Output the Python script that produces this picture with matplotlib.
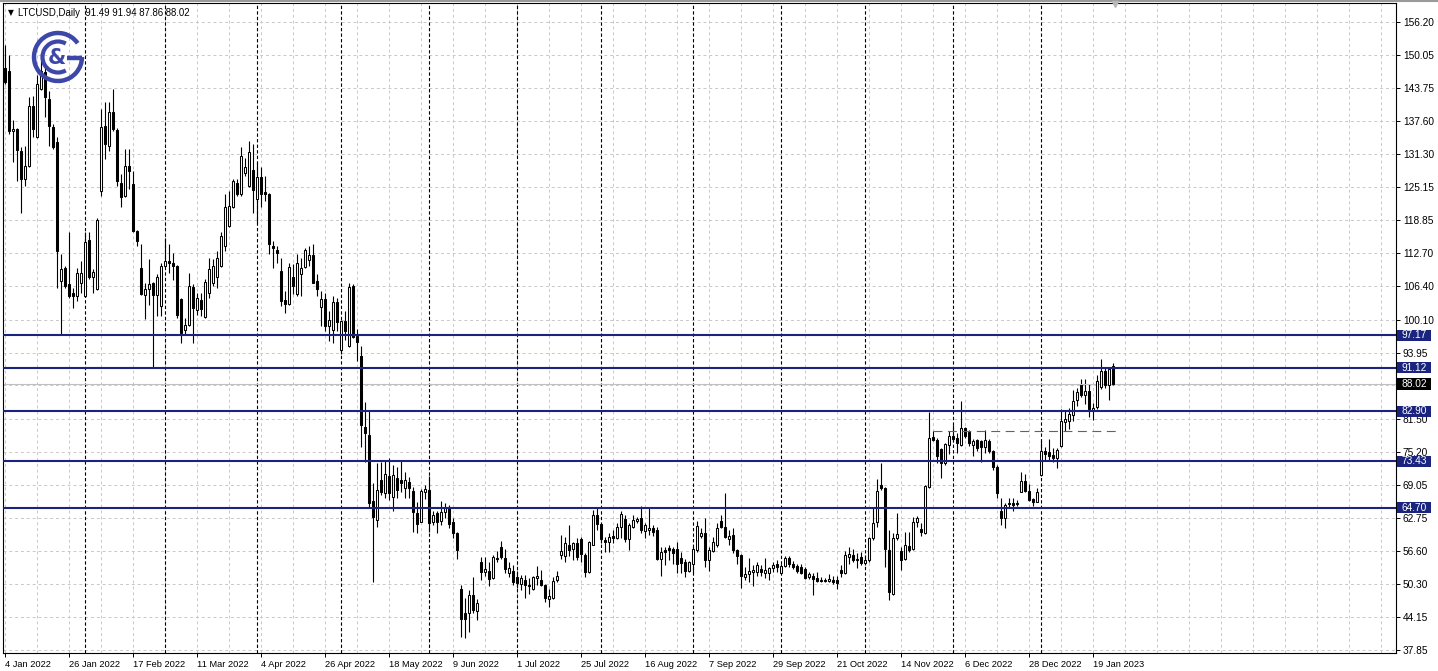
import numpy as np
import matplotlib.pyplot as plt
from matplotlib.patches import Arc, Rectangle

plt.rcParams['font.family'] = ['Liberation Sans', 'DejaVu Sans']

# LTCUSD daily bars (weekdays only), 4 Jan 2022 .. 26 Jan 2023
opens = [147.5, 147.1, 135.7, 136.1, 132.0, 126.65, 129.2, 140.5, 134.5, 143.7,
         146.8, 141.8, 136.5, 133.6, 107.4, 109.9, 106.9, 105.2, 104.6, 107.1,
         104.6, 115.2, 108.2, 105.85, 124.4, 136.7, 132.95, 139.2, 135.9, 126.0,
         123.5, 129.2, 125.7, 116.9, 109.9, 104.8, 105.85, 107.1, 104.8, 102.7,
         110.3, 111.2, 110.9, 110.3, 104.0, 98.1, 99.2, 106.3, 101.9, 103.9,
         100.6, 105.2, 107.1, 108.1, 110.3, 114.05, 117.8, 121.4, 126.0, 123.8,
         127.7, 125.4, 128.4, 122.9, 127.1, 124.25, 123.8, 114.05, 113.2, 109.3,
         103.8, 103.1, 108.2, 104.9, 108.8, 110.1, 111.3, 112.3, 107.4, 102.5,
         104.0, 98.9, 98.1, 103.5, 94.5, 99.85, 95.1, 106.5, 97.0, 93.25,
         80.0, 78.45, 65.96, 62.4, 69.95, 67.4, 70.6, 66.8, 70.25, 69.95,
         68.35, 69.5, 67.85, 63.6, 62.05, 67.6, 68.05, 62.05, 63.6, 62.2,
         63.95, 64.6, 62.05, 60.0, 49.45, 44.75, 44.75, 48.3, 45.2, 54.5,
         52.6, 52.75, 51.35, 55.3, 57.35, 55.25, 52.45, 52.75, 51.6, 50.4,
         51.0, 50.1, 49.3, 51.35, 51.0, 50.1, 47.45, 47.6, 51.0, 55.8,
         55.63, 57.65, 57.0, 57.95, 58.8, 55.8, 52.5, 57.75, 63.3, 61.55,
         58.6, 58.3, 59.4, 59.05, 61.1, 62.6, 58.8, 61.1, 62.2, 62.8,
         60.3, 60.5, 60.9, 60.5, 54.95, 56.7, 57.15, 56.9, 57.0, 55.25,
         54.5, 52.75, 54.0, 56.7, 59.4, 59.85, 54.8, 56.5, 57.65, 62.2,
         61.1, 58.8, 59.55, 56.7, 55.8, 51.65, 52.1, 52.6, 52.6, 53.1,
         52.45, 52.3, 53.4, 54.0, 52.3, 53.75, 55.25, 54.15, 53.75, 53.55,
         53.1, 51.65, 51.9, 51.35, 51.1, 51.0, 50.95, 51.15, 51.0, 52.9,
         52.3, 55.45, 55.75, 55.0, 55.45, 54.35, 54.8, 58.9, 62.05, 69.0,
         68.5, 56.7, 48.5, 58.9, 56.5, 54.95, 57.5, 56.9, 61.95, 60.65,
         59.85, 68.65, 78.1, 77.5, 75.8, 73.1, 76.45, 78.3, 77.8, 76.45,
         79.7, 79.05, 76.55, 77.5, 77.2, 76.05, 77.3, 75.4, 72.45, 64.1,
         62.7, 65.3, 65.5, 65.6, 67.7, 69.75, 67.85, 66.35, 65.85, 70.9,
         75.4, 75.2, 74.65, 74.15, 76.25, 80.8, 81.1, 82.2, 85.05, 87.75,
         85.95, 86.75, 82.95, 83.6, 87.4, 90.4, 87.75, 91.49]

highs = [151.9, 150.0, 137.8, 136.3, 132.6, 132.95, 142.1, 142.4, 146.2, 150.5,
         147.8, 143.3, 137.0, 134.5, 112.5, 110.2, 116.6, 106.2, 109.9, 111.2,
         116.6, 116.6, 109.6, 119.4, 139.9, 141.1, 141.1, 143.7, 136.2, 127.6,
         132.3, 132.3, 128.2, 117.1, 114.4, 107.1, 111.5, 107.3, 108.7, 110.9,
         115.6, 114.4, 112.8, 110.5, 104.3, 100.5, 109.0, 106.8, 105.2, 105.2,
         107.75, 111.8, 111.5, 113.1, 116.6, 123.8, 124.4, 126.65, 126.65, 132.6,
         130.7, 133.9, 133.3, 129.8, 128.85, 127.3, 124.1, 115.0, 114.05, 111.8,
         105.5, 110.9, 110.6, 112.5, 111.8, 113.7, 114.05, 114.4, 108.7, 105.5,
         105.2, 101.75, 104.6, 104.3, 100.0, 101.75, 107.1, 106.8, 98.3, 95.1,
         84.7, 82.85, 69.3, 73.1, 73.4, 73.7, 74.05, 72.8, 72.45, 73.7,
         71.5, 70.4, 68.65, 65.85, 68.25, 69.0, 70.6, 64.1, 64.1, 66.0,
         65.5, 65.2, 62.7, 60.2, 50.2, 47.6, 49.15, 51.6, 47.45, 55.45,
         55.45, 54.5, 55.8, 56.55, 58.45, 56.9, 54.5, 53.9, 52.8, 52.0,
         52.0, 51.35, 51.8, 53.74, 52.9, 50.4, 49.45, 51.65, 52.75, 59.5,
         59.2, 61.4, 58.3, 58.9, 59.2, 56.1, 58.4, 64.3, 64.6, 61.75,
         59.2, 59.85, 60.5, 61.75, 64.1, 63.3, 61.75, 63.3, 62.9, 65.1,
         61.75, 64.7, 61.4, 61.1, 57.3, 57.3, 57.65, 57.3, 58.15, 56.4,
         55.1, 54.6, 57.35, 62.2, 60.8, 62.7, 57.35, 59.2, 61.75, 63.3,
         67.4, 60.5, 60.8, 57.0, 56.0, 53.55, 55.25, 53.9, 54.5, 53.9,
         55.25, 53.55, 54.5, 54.8, 54.0, 55.6, 55.6, 54.6, 54.0, 54.0,
         53.55, 52.6, 52.3, 52.6, 51.65, 51.5, 52.1, 51.85, 51.9, 53.9,
         56.5, 57.35, 56.9, 56.1, 56.4, 55.7, 59.2, 64.6, 70.1, 73.1,
         68.65, 60.5, 59.85, 63.6, 57.35, 60.15, 60.15, 63.0, 63.2, 61.75,
         69.0, 82.7, 79.2, 77.9, 75.9, 76.85, 79.2, 80.35, 78.75, 84.75,
         80.0, 79.4, 77.7, 77.7, 77.5, 79.4, 77.7, 75.6, 72.8, 66.45,
         65.5, 66.45, 66.45, 66.2, 71.4, 71.0, 69.1, 66.6, 68.5, 77.5,
         76.05, 77.7, 75.9, 75.9, 83.35, 83.2, 83.5, 86.95, 87.25, 89.0,
         89.0, 88.0, 84.45, 89.8, 92.8, 91.05, 91.15, 91.94]

lows = [144.6, 135.2, 129.8, 126.3, 120.3, 125.4, 129.0, 134.5, 134.3, 143.5,
        138.3, 132.9, 132.4, 106.2, 97.35, 106.2, 104.3, 102.4, 103.6, 105.2,
        104.4, 107.8, 105.2, 105.7, 123.5, 130.4, 132.0, 135.8, 125.4, 121.3,
        123.3, 124.8, 116.7, 114.05, 104.7, 100.2, 103.0, 91.1, 100.8, 100.8,
        110.1, 109.0, 107.7, 100.5, 95.8, 97.35, 98.9, 95.8, 101.1, 100.8,
        100.4, 104.3, 106.5, 106.2, 110.1, 113.1, 117.6, 121.2, 123.5, 123.5,
        127.3, 125.2, 120.3, 118.45, 121.3, 122.55, 112.5, 109.9, 110.9, 102.7,
        101.4, 102.9, 104.9, 104.6, 104.6, 109.9, 110.3, 107.0, 104.6, 98.9,
        98.0, 96.1, 95.8, 98.0, 93.6, 96.4, 95.0, 96.7, 92.3, 76.2,
        73.35, 64.9, 50.7, 61.1, 67.1, 66.45, 66.15, 64.1, 66.45, 67.7,
        66.6, 66.45, 60.1, 59.85, 61.95, 66.35, 60.1, 61.4, 59.85, 61.4,
        62.7, 60.8, 59.0, 55.1, 40.3, 40.1, 41.3, 44.75, 43.45, 51.0,
        51.9, 49.9, 51.2, 54.5, 55.1, 52.3, 51.6, 50.2, 49.5, 49.15,
        47.6, 48.5, 49.2, 50.05, 49.9, 46.9, 46.0, 47.5, 50.7, 55.1,
        54.5, 55.6, 54.8, 54.8, 54.5, 51.65, 52.3, 57.65, 60.5, 57.95,
        56.4, 56.4, 57.95, 58.8, 58.9, 58.3, 56.7, 60.8, 61.9, 59.85,
        59.05, 59.5, 59.4, 54.8, 51.9, 53.9, 54.8, 54.15, 52.3, 52.3,
        51.65, 52.6, 52.3, 56.4, 58.9, 53.55, 52.75, 56.3, 57.35, 60.8,
        58.9, 57.65, 56.1, 54.15, 49.6, 51.0, 50.7, 49.9, 51.9, 51.9,
        51.35, 51.0, 52.6, 52.6, 52.3, 53.55, 53.55, 53.1, 52.3, 52.1,
        51.2, 51.3, 48.2, 50.7, 50.7, 50.6, 50.7, 50.4, 49.3, 51.65,
        52.1, 54.15, 54.5, 53.25, 53.9, 53.9, 54.5, 58.6, 61.1, 68.05,
        53.55, 47.25, 48.2, 58.6, 52.9, 54.8, 56.4, 56.7, 61.1, 59.4,
        59.7, 68.5, 77.2, 73.1, 70.25, 72.65, 74.8, 77.05, 75.0, 76.25,
        77.8, 76.25, 74.35, 75.3, 73.4, 75.0, 75.0, 71.85, 66.45, 61.4,
        60.8, 64.6, 64.1, 65.0, 67.6, 67.6, 65.96, 65.1, 65.7, 70.75,
        73.7, 73.7, 73.4, 72.1, 76.05, 79.2, 79.6, 80.95, 83.8, 85.5,
        84.2, 81.7, 81.3, 83.35, 87.15, 87.25, 85.05, 87.86]

closes = [145.0, 135.8, 136.1, 132.1, 126.65, 129.2, 140.5, 136.1, 144.6, 147.1,
          142.1, 136.7, 132.6, 113.1, 109.6, 106.5, 104.6, 104.6, 109.0, 109.0,
          114.7, 108.1, 109.2, 118.9, 136.4, 133.3, 139.2, 136.1, 126.3, 123.2,
          129.2, 128.2, 116.9, 115.0, 104.9, 105.85, 106.9, 104.8, 108.1, 110.3,
          111.2, 110.9, 110.3, 101.1, 97.7, 99.2, 106.5, 102.4, 104.2, 102.1,
          107.3, 109.6, 110.3, 111.8, 116.0, 121.3, 121.6, 126.3, 123.8, 131.0,
          129.0, 131.7, 124.6, 127.0, 123.8, 123.8, 114.4, 113.7, 112.7, 103.6,
          103.1, 110.1, 106.5, 110.9, 109.85, 113.2, 112.3, 107.1, 105.85, 104.0,
          98.9, 100.0, 103.5, 99.7, 99.85, 98.0, 106.3, 96.85, 95.95, 80.2,
          78.75, 65.5, 63.0, 68.05, 67.7, 71.0, 67.4, 70.9, 68.05, 69.3,
          69.95, 68.5, 63.8, 61.55, 67.85, 68.25, 61.75, 63.4, 62.05, 63.8,
          64.7, 61.55, 60.0, 56.7, 43.65, 43.8, 48.3, 45.35, 46.8, 52.6,
          53.05, 51.2, 55.45, 55.05, 55.45, 53.1, 53.35, 50.7, 50.5, 51.35,
          50.2, 50.0, 51.6, 51.85, 50.2, 47.6, 48.1, 50.85, 51.85, 56.5,
          58.1, 56.7, 57.95, 55.45, 56.05, 52.5, 58.3, 63.3, 61.55, 58.8,
          58.15, 59.2, 58.9, 61.1, 63.45, 58.8, 61.4, 62.4, 62.6, 60.5,
          61.4, 60.9, 60.2, 54.95, 56.4, 56.4, 56.7, 56.2, 54.0, 54.35,
          52.75, 54.5, 57.0, 61.3, 59.85, 54.8, 56.7, 58.3, 60.8, 61.1,
          59.2, 59.4, 56.7, 55.6, 51.9, 52.1, 52.75, 52.9, 53.9, 52.6,
          52.9, 53.35, 53.9, 53.5, 53.75, 55.25, 54.15, 53.55, 52.75, 52.45,
          51.5, 52.1, 51.2, 50.85, 50.9, 50.85, 51.3, 50.65, 50.5, 52.3,
          55.75, 55.9, 54.8, 54.8, 54.35, 54.8, 58.9, 61.9, 67.85, 68.35,
          57.0, 48.8, 59.05, 59.65, 54.8, 57.65, 56.7, 62.05, 62.7, 60.15,
          68.85, 77.9, 77.5, 74.35, 73.1, 76.7, 78.3, 77.7, 76.85, 79.8,
          78.3, 76.85, 77.3, 75.9, 76.1, 77.5, 75.3, 72.3, 67.4, 62.7,
          65.2, 65.5, 65.2, 65.3, 69.75, 67.85, 66.15, 65.7, 67.6, 75.3,
          74.8, 74.5, 74.15, 75.6, 80.95, 81.45, 82.35, 84.9, 86.5, 85.95,
          86.75, 83.35, 83.5, 88.65, 90.4, 87.9, 90.9, 88.02]

# axis labels
date_labels = ['4 Jan 2022', '26 Jan 2022', '17 Feb 2022', '11 Mar 2022', '4 Apr 2022',
               '26 Apr 2022', '18 May 2022', '9 Jun 2022', '1 Jul 2022', '25 Jul 2022',
               '16 Aug 2022', '7 Sep 2022', '29 Sep 2022', '21 Oct 2022', '14 Nov 2022',
               '6 Dec 2022', '28 Dec 2022', '19 Jan 2023']
label_every = 16
month_starts = [20, 40, 63, 84, 106, 128, 149, 172, 194, 215, 237, 259]
price_ticks = [156.20, 150.05, 143.75, 137.60, 131.30, 125.15, 118.85, 112.70, 106.40,
               100.10, 93.95, 87.80, 81.50, 75.20, 69.05, 62.75, 56.60, 50.30, 44.15, 37.85]

# drawn objects
levels = [97.17, 91.12, 82.90, 73.43, 64.70]
last_price = 88.02
trend_level = 79.2
trend_from = 232

W, H = 1438, 671
navy = '#1a237e'
logo_blue = '#3d47a8'

fig = plt.figure(figsize=(W / 100, H / 100), dpi=100)
ax = fig.add_axes([3 / W, 1 - 653 / H, 1393 / W, 650 / H])
ax.set_xlim(-0.5, 347.75)
ax.set_ylim(37.3, 159.84)

# grid
for p in price_ticks:
    ax.axhline(p, color='#c8c8c8', lw=0.7, ls=(0, (3, 3)), zorder=1)
for i in range(0, 348, 8):
    ax.axvline(i, color='#c8c8c8', lw=0.7, ls=(0, (3, 3)), zorder=1)
for m in month_starts:
    ax.axvline(m, color='black', lw=0.8, ls=(0, (3, 2)), zorder=1.5)

# candles
o = np.array(opens)
h = np.array(highs)
l = np.array(lows)
c = np.array(closes)
x = np.arange(len(o))
ax.vlines(x, l, h, color='black', lw=0.8, zorder=2)
bottoms = np.minimum(o, c)
heights = np.maximum(np.abs(c - o), 0.15)
face = ['white' if cc >= oo else 'black' for oo, cc in zip(o, c)]
ax.bar(x, heights, 0.6, bottom=bottoms, color=face, edgecolor='black',
       linewidth=0.75, zorder=3)

# horizontal objects
ax.axhline(last_price, color='#c0c0c0', lw=0.8, zorder=2.5)
for lv in levels:
    ax.axhline(lv, color=navy, lw=1.5, zorder=4)
ax.hlines(trend_level, trend_from, len(o) + 0.3, color='#3f7f2a', lw=0.8,
          ls=(0, (8, 5)), zorder=4)

# axes look
for s in ax.spines.values():
    s.set_color('black')
    s.set_linewidth(0.8)
ax.yaxis.tick_right()
ax.set_yticks(price_ticks)
ax.set_yticklabels([f'{p:.2f}' for p in price_ticks])
ax.tick_params(axis='y', direction='out', length=3, pad=2, labelsize=7.3, width=0.7)
ticks_x = list(range(0, label_every * len(date_labels), label_every))
ax.set_xticks(ticks_x)
ax.set_xticklabels(date_labels, ha='left')
ax.tick_params(axis='x', direction='out', length=3, pad=1.8, labelsize=6.7, width=0.7)

# price tags on the right
tag_w = 34 / 1393
ytr = ax.get_yaxis_transform()
for lv, col in [(v, navy) for v in levels] + [(last_price, 'black')]:
    ax.add_patch(Rectangle((1.0006, lv - 1.05), tag_w, 2.1, transform=ytr,
                           facecolor=col, edgecolor='none', clip_on=False, zorder=6))
    ax.text(1.0006 + tag_w / 2, lv, f'{lv:.2f}', transform=ytr, ha='center',
            va='center', color='white', fontsize=7.3, zorder=7, clip_on=False)

# title and overlay decorations in pixel coordinates
ov = fig.add_axes([0, 0, 1, 1], facecolor='none')
ov.set_xlim(0, W)
ov.set_ylim(H, 0)
ov.axis('off')
ov.plot([0, W], [0.8, 0.8], color='#9a9a9a', lw=1.5)
ov.text(8, 13, '\u25bc', fontsize=5.5, va='center', family=['DejaVu Sans'])
ov.text(18, 13, 'LTCUSD,Daily  91.49 91.94 87.86 88.02', fontsize=6.9, va='center')
ov.plot([1115], [4], marker='v', color='#b8b8b8', markersize=5)

# logo
cx, cy = 58, 57
ov.add_patch(Arc((cx, cy), 48, 48, theta1=0, theta2=325, color=logo_blue, lw=3.2))
ov.add_patch(Arc((cx, cy), 31, 31, theta1=60, theta2=300, color=logo_blue, lw=3.0))
ov.plot([cx + 9, cx + 24], [cy + 1, cy + 1], color=logo_blue, lw=3.2, solid_capstyle='butt')
ov.text(cx - 1, cy + 1, '&', fontsize=15, fontweight='bold', color=logo_blue,
        ha='center', va='center', family=['DejaVu Sans'])

fig.savefig('out.png', dpi=100)
